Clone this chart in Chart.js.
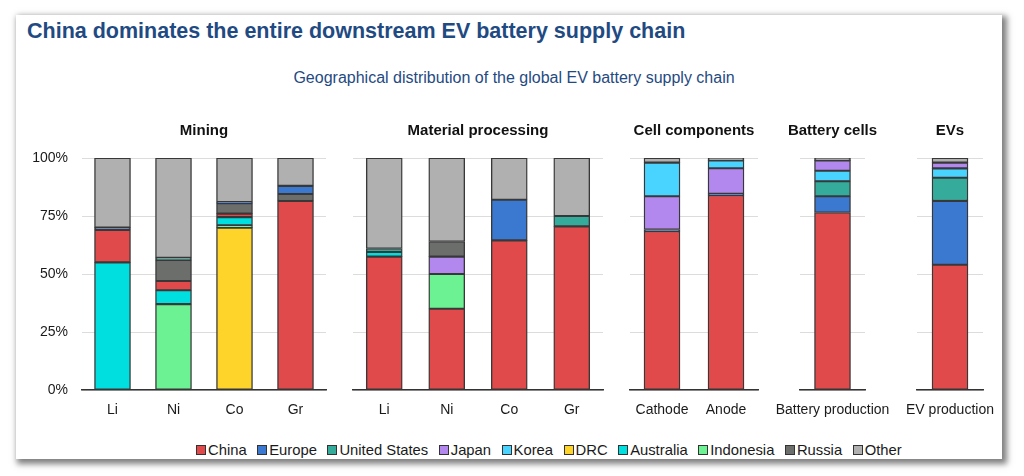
<!DOCTYPE html>
<html>
<head>
<meta charset="utf-8">
<script src="https://cdn.jsdelivr.net/npm/chart.js@4.4.1/dist/chart.umd.min.js"></script>
<style>
  html, body { margin: 0; padding: 0; background: #ffffff; }
  body { width: 1024px; height: 476px; position: relative; overflow: hidden;
         font-family: "Liberation Sans", Arial, sans-serif; }
  #card { position: absolute; left: 16px; top: 15px; width: 986px; height: 444px;
          background: #ffffff; box-shadow: 3px 3px 6px 2px rgba(0,0,0,0.5); }
  #title { position: absolute; left: 27px; top: 19px; font-size: 21.5px; font-weight: bold;
           color: #1f4a82; white-space: nowrap; }
  #subtitle { position: absolute; left: 0; width: 1028px; top: 69px; text-align: center;
              font-size: 16px; color: #1f4a82; white-space: nowrap; }
  .pane { position: absolute; top: 110px; height: 320px; }
  #legend { position: absolute; left: 196px; top: 442px; display: flex; align-items: center;
            font-size: 14.8px; color: #1a1a1a; white-space: nowrap; }
  .li { display: flex; align-items: center; margin-right: 10.5px; }
  .sw { width: 8px; height: 8px; border: 1px solid #333; margin-right: 2px; }
</style>
</head>
<body>
<div id="card"></div>
<div id="title">China dominates the entire downstream EV battery supply chain</div>
<div id="subtitle">Geographical distribution of the global EV battery supply chain</div>
<div class="pane" id="p0"><canvas id="c0"></canvas></div>
<div class="pane" id="p1"><canvas id="c1"></canvas></div>
<div class="pane" id="p2"><canvas id="c2"></canvas></div>
<div class="pane" id="p3"><canvas id="c3"></canvas></div>
<div class="pane" id="p4"><canvas id="c4"></canvas></div>
<div id="legend"></div>
<script>
// ---- Data (percent share) ----
const categories = ["Li", "Ni", "Co", "Gr", "Li", "Ni", "Co", "Gr", "Cathode", "Anode", "Battery production", "EV production"];
const groups = ["Mining", "Material processing", "Cell components", "Battery cells", "EVs"];
const groupRanges = [[0, 4], [4, 8], [8, 10], [10, 11], [11, 12]];
const seriesNames = ["China", "Europe", "United States", "Japan", "Korea", "DRC", "Australia", "Indonesia", "Russia", "Other"];
//                       Li    Ni    Co    Gr    Li    Ni    Co    Gr   Cath  Anode Batt  EV
const china        = [14,    4,  1.5, 81.5, 57.5,  35, 64.5, 70.5, 68.5,  84, 76.5,   54];
const europe       = [ 1,    0,  0.5,  3.5,    0,   0, 17.5,    0,  0.7, 0.6,    7, 27.5];
const unitedStates = [ 0,    1,    0,    0,  1.5,   0,    0,  4.5,    0,   0,  6.5,   10];
const japan        = [ 0,    0,    0,    0,    0, 7.5,    0,    0, 14.3,  11,  4.5,  2.5];
const korea        = [ 0,    0,    0,    0,    0,   0,    0,    0, 14.5, 3.4,  4.5,    4];
const drc          = [ 0,    0,   70,    0,    0,   0,    0,    0,    0,   0,    0,    0];
const australia    = [55,    6,  3.5,    0,    2,   0,    0,    0,    0,   0,    0,    0];
const indonesia    = [ 0,   37,    1,    0,    0,  15,    0,    0,    0,   0,    0,    0];
const russia       = [ 0,    9,  4.5,    3,    0, 6.5,    0,    0,    0,   0,    0,    0];
const other        = [30,   43,   19,   12,   39,  36,   18,   25,    2,   1,    1,    2];
const seriesValues = [china, europe, unitedStates, japan, korea, drc, australia, indonesia, russia, other];

// ---- Styles ----
const seriesColors = ["#e04a4a", "#3b78d0", "#35ab9c", "#b388ee", "#48d4ff", "#ffd42a", "#00dfdf", "#6cf292", "#6c6e6c", "#b0b0b0"];
// stacking order (bottom to top) used in each panel
const stackOrders = [
  ["DRC", "Indonesia", "Australia", "China", "Russia", "United States", "Europe", "Japan", "Korea", "Other"],
  ["China", "Australia", "Indonesia", "Japan", "Russia", "United States", "Europe", "Korea", "DRC", "Other"],
  ["China", "Europe", "United States", "Japan", "Korea", "DRC", "Australia", "Indonesia", "Russia", "Other"],
  ["China", "Europe", "United States", "Korea", "Japan", "DRC", "Australia", "Indonesia", "Russia", "Other"],
  ["China", "Europe", "United States", "Korea", "Japan", "DRC", "Australia", "Indonesia", "Russia", "Other"]
];
// panel plot-area extents [left, right] in px
const panelX = [[82, 326], [353, 603], [630, 758], [800, 865], [917, 983]];
const FONT = "'Liberation Sans', Arial, sans-serif";
const PAD = 90;

Chart.defaults.font.family = FONT;
Chart.defaults.color = "#1a1a1a";

groups.forEach((g, gi) => {
  const [a, b] = groupRanges[gi];
  const [xl, xr] = panelX[gi];
  const first = gi === 0;
  const sideL = first ? xl : PAD;
  const sideR = first ? xl : PAD;
  const left = xl - sideL;
  const width = (xr - xl) + sideL + sideR;
  const pane = document.getElementById("p" + gi);
  pane.style.left = left + "px";
  pane.style.width = width + "px";
  const datasets = stackOrders[gi].map(name => {
    const si = seriesNames.indexOf(name);
    return {
      label: name,
      data: seriesValues[si].slice(a, b),
      backgroundColor: seriesColors[si],
      borderColor: "#383838",
      borderWidth: 1.4,
      borderSkipped: false,
      barThickness: 36,
      stack: "s"
    };
  });
  new Chart(document.getElementById("c" + gi), {
    type: "bar",
    data: { labels: categories.slice(a, b), datasets },
    options: {
      responsive: true,
      maintainAspectRatio: false,
      animation: false,
      layout: { padding: 0 },
      plugins: {
        legend: { display: false },
        tooltip: { enabled: false },
        title: {
          display: true, text: g, color: "#111",
          font: { size: 15, weight: "bold", family: FONT },
          padding: { top: 12, bottom: 18 }
        }
      },
      scales: {
        x: {
          stacked: true,
          grid: { display: false, drawTicks: false },
          border: { display: true, color: "#333", width: 1.5 },
          ticks: { font: { size: 14, family: FONT }, color: "#1a1a1a", padding: 12, maxRotation: 0, autoSkip: false },
          afterFit: s => { s.height = 40; }
        },
        y: {
          stacked: true, min: 0, max: 100, position: "left",
          grid: { color: "#dcdcdc", lineWidth: 1, drawTicks: false },
          border: { display: false },
          ticks: {
            display: first, stepSize: 25, padding: 14,
            font: { size: 14, family: FONT }, color: "#1a1a1a",
            callback: v => v + "%"
          },
          afterFit: s => { s.width = sideL; }
        },
        yr: {
          position: "right", min: 0, max: 100,
          grid: { display: false, drawTicks: false },
          border: { display: false },
          ticks: { display: false },
          afterFit: s => { s.width = sideR; }
        }
      }
    }
  });
});

// legend
const leg = document.getElementById("legend");
seriesNames.forEach((n, i) => {
  const d = document.createElement("div");
  d.className = "li";
  d.innerHTML = '<span class="sw" style="background:' + seriesColors[i] + '"></span><span>' + n + '</span>';
  leg.appendChild(d);
});
</script>
</body>
</html>
